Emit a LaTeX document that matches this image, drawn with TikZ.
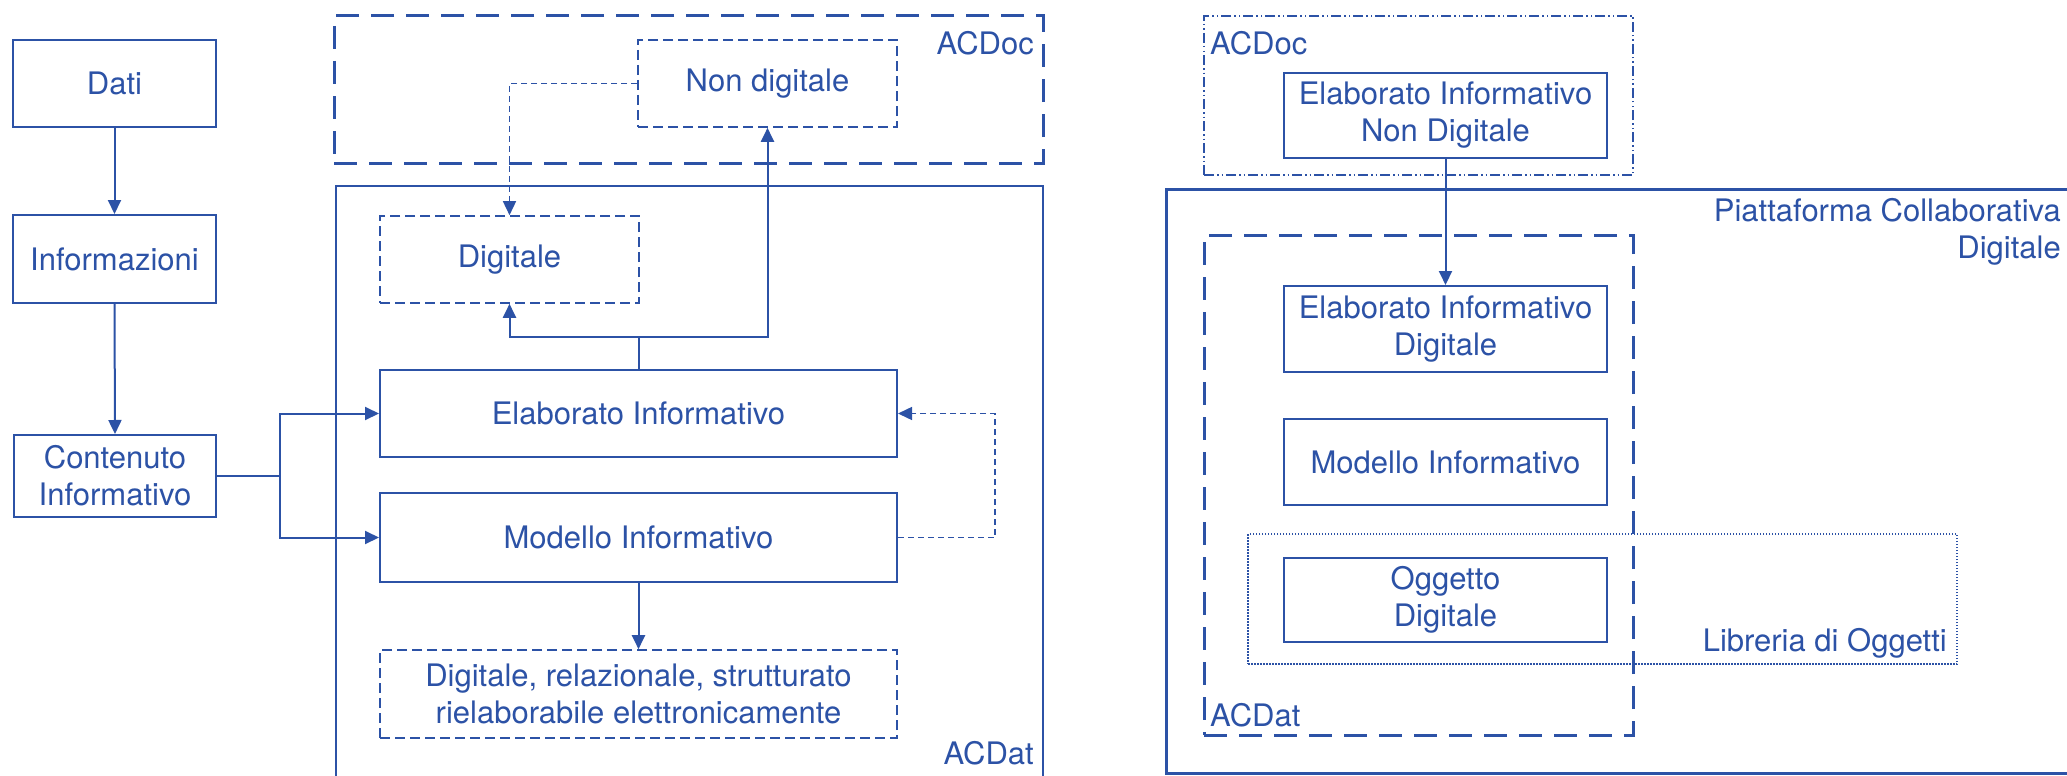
\documentclass[tikz,border=0pt]{standalone}
\usepackage{fontspec}
\setmainfont{TeX Gyre Heros}
\usetikzlibrary{arrows.meta,fit}
\definecolor{bl}{RGB}{44,82,166}
\begin{document}
\begin{tikzpicture}[x=1pt,y=-1pt,
  every node/.style={text=bl, font=\fontsize{31}{37}\selectfont},
  box/.style={draw=bl, line width=2pt, inner sep=0pt, align=center, minimum height=87pt},
  dbox/.style={box, line width=1.6pt, dash pattern=on 10pt off 5pt},
  bigdash/.style={draw=bl, line width=3pt, dash pattern=on 23pt off 12pt, inner sep=0pt},
  solidc/.style={draw=bl, line width=2pt, inner sep=0pt},
  thickc/.style={draw=bl, line width=3pt, inner sep=0pt},
  dashdotdot/.style={draw=bl, line width=1.2pt, dash pattern=on 10pt off 3pt on 1.5pt off 3pt on 1.5pt off 3pt, inner sep=0pt},
  finedot/.style={draw=bl, line width=1.5pt, dash pattern=on 1.5pt off 1.5pt, inner sep=0pt},
  lbl/.style={inner sep=0pt, align=center},
  wire/.style={draw=bl, line width=2pt},
  conn/.style={wire, -{Triangle[length=14pt,width=13pt]}},
  dconn/.style={draw=bl, line width=1.5pt, dash pattern=on 6pt off 4pt, -{Triangle[length=14pt,width=13pt]}}
]
\useasboundingbox (0,0) rectangle (2067,776);
\clip (0,0) rectangle (2067,776);
\fill[white] (0,0) rectangle (2067,776);

% ---------- left diagram: containers ----------
\node[bigdash, fit={(334,16) (1043,163)}] (acdocL) {};
\node[lbl, anchor=east] (acdocLl) at (1034,43) {ACDoc};
\node[solidc, fit={(336,186) (1043,820)}] (acdatL) {};
\node[lbl, anchor=east] (acdatLl) at (1034,753) {ACDat};

% ---------- left diagram: boxes ----------
\node[box, minimum width=203pt] (dati) at (114.5,83.5) {Dati};
\node[box, minimum width=203pt, minimum height=88pt] (info) at (114.5,259) {Informazioni};
\node[box, minimum width=202pt, minimum height=82pt] (cont) at (115,476) {Contenuto\\Informativo};
\node[dbox, minimum width=259pt] (nondig) at (767.5,83.5) {Non digitale};
\node[dbox, minimum width=259pt] (dig) at (509.5,259.5) {Digitale};
\node[box, minimum width=517pt] (elab) at (638.5,413.5) {Elaborato Informativo};
\node[box, minimum width=517pt, minimum height=89pt] (mod) at (638.5,537.5) {Modello Informativo};
\node[dbox, minimum width=517pt, minimum height=88pt] (digrel) at (638.5,694) {Digitale, relazionale, strutturato\\rielaborabile elettronicamente};

% ---------- left diagram: connectors ----------
\draw[conn] (dati.south) -- (info.north);
\draw[conn] (info.south) -- (cont.north);
\coordinate (br) at (280,476);
\draw[wire] (cont.east) -- (br);
\draw[conn] (br) |- (elab.west);
\draw[conn] (br) |- (mod.west);
\draw[dconn] (nondig.west) -| (dig.north);
\coordinate (ej) at (638.5,337);
\draw[wire] (elab.north) -- (ej);
\draw[conn] (ej) -| (dig.south);
\draw[conn] (ej) -| (nondig.south);
\coordinate (lp) at (995,537.5);
\draw[dconn] (mod.east) -- (lp) |- (elab.east);
\draw[conn] (mod.south) -- (digrel.north);

% ---------- right diagram ----------
\node[dashdotdot, fit={(1204,16) (1633,175)}] (acdocR) {};
\node[lbl, anchor=west] (acdocRl) at (1210,43) {ACDoc};
\node[thickc, fit={(1166,189) (2080,773)}] (piatt) {};
\node[lbl, anchor=east, align=right] (piattl) at (2061,232) {Piattaforma Collaborativa\\Digitale};
\node[bigdash, fit={(1204,235) (1633,735)}] (acdatR) {};
\node[lbl, anchor=west] (acdatRl) at (1210,715) {ACDat};
\node[finedot, fit={(1248,534) (1957,664)}] (lib) {};
\node[lbl, anchor=east] (libl) at (1947,643) {Libreria di Oggetti};

\node[box, minimum width=323pt, minimum height=85pt] (eind) at (1445.5,115.5) {Elaborato Informativo\\Non Digitale};
\node[box, minimum width=323pt, minimum height=86pt] (eid) at (1445.5,329) {Elaborato Informativo\\Digitale};
\node[box, minimum width=323pt, minimum height=86pt] (modR) at (1445.5,462) {Modello Informativo};
\node[box, minimum width=323pt, minimum height=84pt] (ogg) at (1445.5,600) {Oggetto\\Digitale};

\draw[conn] (eind.south) -- (eid.north);
\end{tikzpicture}
\end{document}
